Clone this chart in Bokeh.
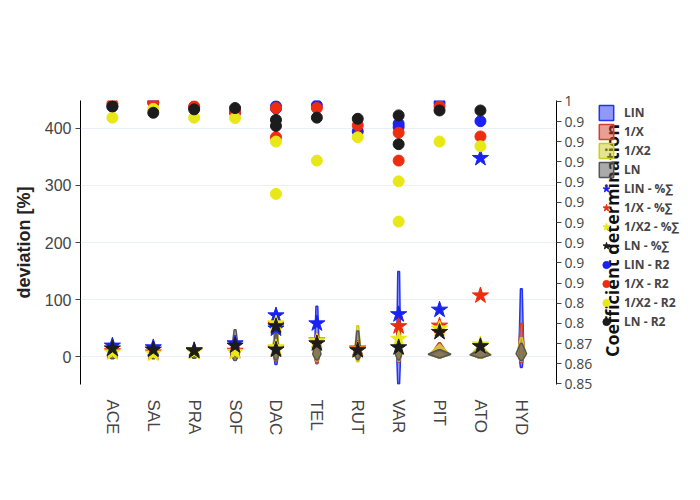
import math
import numpy as np
from bokeh.plotting import figure
from bokeh.layouts import row
from bokeh.models import Range1d, LinearAxis, FixedTicker, Legend, LegendItem, Label
from bokeh.embed import file_html
from bokeh.resources import INLINE

categories = ["ACE", "SAL", "PRA", "SOF", "DAC", "TEL", "RUT", "VAR", "PIT", "ATO", "HYD"]
series = ["LIN", "1/X", "1/X2", "LN"]

# ---- violin summaries (deviation %), per series over categories ----
viol_min = {
    "LIN":  [-2, -2, -2, -3, -14, -12, -4, -48, -2, -3, -19],
    "1/X":  [-2, -2, -2, -3, -8, -12, -6, -10, -2, -3, -10],
    "1/X2": [-3, -3, -2, -3, -6, -8, -9, -8, -2, -3, -8],
    "LN":   [-4, -4, -3, -7, -6, -6, -5, -6, -2, -2, -7],
}
viol_max = {
    "LIN":  [22, 18, 14, 30, 78, 88, 18, 149, 10, 12, 119],
    "1/X":  [18, 15, 14, 25, 60, 40, 22, 70, 24, 18, 58],
    "1/X2": [15, 15, 12, 20, 60, 35, 54, 40, 20, 20, 33],
    "LN":   [12, 12, 10, 47, 40, 30, 45, 30, 12, 12, 23],
}
viol_peak = {
    "LIN":  [3, 3, 3, 4, 5, 5, 4, 5, 3, 3, 5],
    "1/X":  [3, 3, 3, 4, 5, 5, 4, 5, 3, 3, 5],
    "1/X2": [3, 3, 3, 4, 5, 5, 4, 5, 3, 3, 5],
    "LN":   [2, 2, 2, 3, 4, 4, 3, 4, 4, 3, 5],
}
viol_halfwidth = {
    "LIN":  [0.08, 0.08, 0.08, 0.08, 0.06, 0.06, 0.06, 0.05, 0.20, 0.20, 0.06],
    "1/X":  [0.10, 0.10, 0.10, 0.10, 0.08, 0.08, 0.08, 0.06, 0.22, 0.22, 0.08],
    "1/X2": [0.12, 0.12, 0.10, 0.10, 0.08, 0.08, 0.08, 0.06, 0.26, 0.24, 0.10],
    "LN":   [0.13, 0.13, 0.12, 0.10, 0.08, 0.10, 0.08, 0.08, 0.28, 0.26, 0.13],
}

# ---- mean deviation stars (%) ----
star_cat = ["ACE", "SAL", "PRA", "SOF", "DAC", "DAC", "TEL", "RUT", "VAR", "PIT", "ATO"]
star_val = {
    "LIN":  [19, 16, 11, 23, 72, 49, 58, 13, 74, 82, 348],
    "1/X":  [9, 7, 9, 10, 56, 14, 28, 14, 53, 54, 107],
    "1/X2": [7, 5, 8, 8, 58, 16, 27, 12, 31, 49, 21],
    "LN":   [14, 12, 10, 19, 53, 12, 23, 11, 16, 43, 18],
}

# ---- coefficient of determination ----
r2_cat = ["ACE", "SAL", "PRA", "SOF", "DAC", "DAC", "TEL", "RUT", "VAR", "VAR", "PIT", "ATO"]
r2_val = {
    "LIN":  [0.9972, 0.9993, 0.9968, 0.9940, 0.9974, 0.9963, 0.9979, 0.9841, 0.9882, 0.9864, 0.9993, 0.9895],
    "1/X":  [0.9988, 0.9997, 0.9974, 0.9945, 0.9965, 0.9810, 0.9965, 0.9873, 0.9834, 0.9686, 0.9974, 0.9814],
    "1/X2": [0.9914, 0.9961, 0.9914, 0.9912, 0.9787, 0.9509, 0.9686, 0.9810, 0.9576, 0.9362, 0.9787, 0.9762],
    "LN":   [0.9974, 0.9940, 0.9958, 0.9965, 0.9902, 0.9870, 0.9914, 0.9908, 0.9926, 0.9773, 0.9952, 0.9952],
}

left_ticks = [0, 100, 200, 300, 400]
right_tick_labels = ["0.85", "0.86", "0.87", "0.8", "0.8", "0.9", "0.9", "0.9", "0.9",
                     "0.9", "0.9", "0.9", "0.9", "0.9", "1"]
right_title = "Coefficient determination"

mark_color = {"LIN": "#1a22f2", "1/X": "#ee2c10", "1/X2": "#e8e816", "LN": "#1c1c1c"}
viol_color = {"LIN": "#2333f0", "1/X": "#d2402c", "1/X2": "#cccc22", "LN": "#555555"}

idx = {c: i for i, c in enumerate(categories)}

TOP, FH, BOTTOM = 100, 284, 60

p = figure(frame_width=476, frame_height=FH, min_border_left=80, min_border_top=TOP,
           min_border_right=40, min_border_bottom=BOTTOM,
           x_range=Range1d(-0.78, 10.86), y_range=Range1d(-49, 449),
           output_backend="svg", toolbar_location=None, tools="")
p.outline_line_color = None
p.background_fill_color = "white"
p.extra_y_ranges = {"r2": Range1d(0.8497, 1.0005)}

# violins
tail = 0.022
for s in series:
    xs, ys = [], []
    for i, c in enumerate(categories):
        lo, hi, pk, hw = viol_min[s][i], viol_max[s][i], viol_peak[s][i], viol_halfwidth[s][i]
        xs.append([i - tail, i - hw, i - tail, i + tail, i + hw, i + tail])
        ys.append([lo, pk, hi, hi, pk, lo])
    p.patches(xs, ys, fill_color=viol_color[s], fill_alpha=0.5,
              line_color=viol_color[s], line_width=1.5)

# stars
for s in series:
    p.scatter([idx[c] for c in star_cat], star_val[s], marker="star", size=17,
              fill_color=mark_color[s], line_color=mark_color[s])

# R2 circles
for s in series:
    p.scatter([idx[c] for c in r2_cat], r2_val[s], marker="circle", size=11,
              fill_color=mark_color[s], line_color=mark_color[s], y_range_name="r2")

# x axis
xa = p.xaxis[0]
xa.ticker = FixedTicker(ticks=list(range(len(categories))))
xa.major_label_overrides = {i: c for i, c in enumerate(categories)}
xa.major_label_orientation = -math.pi / 2
xa.axis_line_color = None
xa.major_tick_line_color = None
xa.minor_tick_line_color = None
xa.major_label_text_font = "Liberation Sans"
xa.major_label_text_font_size = "17px"
xa.major_label_text_color = "#444444"
xa.major_label_standoff = 9

# left axis
ya = p.yaxis[0]
ya.ticker = FixedTicker(ticks=left_ticks)
ya.axis_label = "deviation [%]"
ya.axis_label_text_font = "Liberation Sans"
ya.axis_label_text_font_style = "bold"
ya.axis_label_text_font_size = "18px"
ya.axis_label_text_color = "#222222"
ya.axis_label_standoff = 8
ya.major_label_text_font = "Liberation Sans"
ya.major_label_text_font_size = "16px"
ya.major_label_text_color = "#444444"
ya.axis_line_color = "black"
ya.major_tick_line_color = "#444444"
ya.major_tick_out = 5
ya.major_tick_in = 0
ya.minor_tick_line_color = None
ya.major_label_standoff = 4

p.xgrid.grid_line_color = None
p.ygrid.grid_line_color = "#ebf0f8"
p.ygrid.ticker = FixedTicker(ticks=left_ticks)

# right axis (ticks)
rticks = list(np.linspace(0.85, 1.0, len(right_tick_labels)))
ra = LinearAxis(y_range_name="r2")
ra.ticker = FixedTicker(ticks=rticks)
ra.major_label_overrides = {t: l for t, l in zip(rticks, right_tick_labels)}
ra.major_label_text_font = "Open Sans"
ra.major_label_text_font_size = "14px"
ra.major_label_text_color = "#444444"
ra.axis_line_color = "black"
ra.major_tick_line_color = "#444444"
ra.major_tick_out = 5
ra.major_tick_in = 0
ra.minor_tick_line_color = None
ra.major_label_standoff = 3
p.add_layout(ra, "right")

# ---- side panel: right-axis title and legend ----
SW = 104
q = figure(frame_width=SW, frame_height=FH, min_border_left=0, min_border_right=0,
           min_border_top=TOP, min_border_bottom=BOTTOM,
           x_range=Range1d(0, SW), y_range=Range1d(0, FH),
           x_axis_type=None, y_axis_type=None,
           output_backend="svg", toolbar_location=None, tools="")
q.outline_line_color = None
q.xgrid.grid_line_color = None
q.ygrid.grid_line_color = None

q.add_layout(Label(x=15, y=144, text=right_title, angle=math.pi / 2,
                   text_align="center", text_baseline="middle",
                   text_font="Open Sans", text_font_style="bold",
                   text_font_size="18px", text_color="#111111"))

# legend-only renderers (no visible points: NaN coordinates)
nan = float("nan")
items = []
for s in series:
    r = q.patches([[nan]], [[nan]], fill_color=viol_color[s], fill_alpha=0.5,
                  line_color=viol_color[s], line_width=1.5)
    items.append(LegendItem(label=s, renderers=[r]))
for s in series:
    r = q.scatter([nan], [nan], marker="star", size=17,
                  fill_color=mark_color[s], line_color=mark_color[s])
    items.append(LegendItem(label=s + " - %\u2211", renderers=[r]))
for s in series:
    r = q.scatter([nan], [nan], marker="circle", size=11,
                  fill_color=mark_color[s], line_color=mark_color[s])
    items.append(LegendItem(label=s + " - R2", renderers=[r]))

lg = Legend(items=items, location=(1, 53))
lg.background_fill_alpha = 0
lg.border_line_color = None
lg.label_text_font = "Open Sans"
lg.label_text_font_style = "bold"
lg.label_text_font_size = "12px"
lg.label_text_color = "#444444"
lg.glyph_width = 18
lg.glyph_height = 19
lg.label_height = 19
lg.spacing = 0
lg.padding = 0
lg.margin = 0
lg.label_standoff = 9
q.add_layout(lg, "center")

open("out.html", "w").write(file_html(row(p, q), INLINE))
